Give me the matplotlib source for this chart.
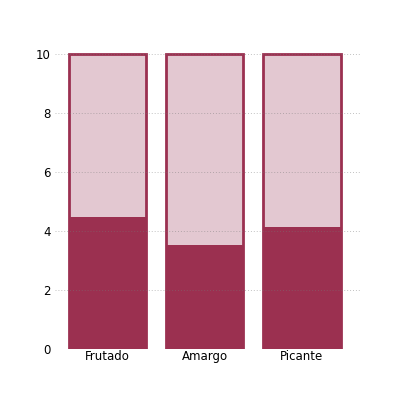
import matplotlib
matplotlib.use("Agg")
import matplotlib.pyplot as plt

categorias = ['Frutado', 'Amargo', 'Picante']
valores = [4.47, 3.53, 4.15]
maximo = [10, 10, 10]

oscuro = '#9b3050'
claro = '#e3c8d1'

fig = plt.figure(figsize=(4, 4), dpi=100)
ax = fig.add_axes([0.1375, 0.1275, 0.7625, 0.756])

x = range(len(categorias))
ax.bar(x, maximo, width=0.8, color=claro, edgecolor=oscuro, linewidth=2, zorder=1)
ax.bar(x, valores, width=0.8, color=oscuro, edgecolor=oscuro, linewidth=0, zorder=2)

ax.set_xlim(-0.54, 2.6)
ax.set_ylim(0, 10.25)
ax.set_yticks([0, 2, 4, 6, 8, 10])
ax.set_xticks(list(x))
ax.set_xticklabels(categorias)
ax.yaxis.grid(True, linestyle=(0, (1, 2)), color='#777777', alpha=0.45, linewidth=0.7, zorder=3)
ax.set_axisbelow(False)
for s in ax.spines.values():
    s.set_visible(False)
ax.tick_params(axis='y', length=0, labelsize=8.5, pad=3)
ax.tick_params(axis='x', length=0, labelsize=8.5, pad=1)

plt.savefig('out.png', dpi=100)
